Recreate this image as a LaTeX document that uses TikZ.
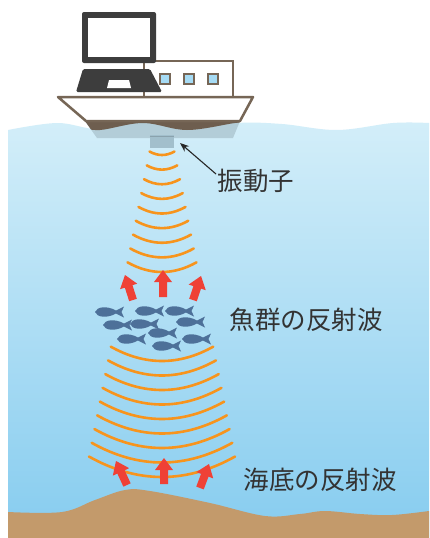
\documentclass[tikz,border=0pt]{standalone}
\usepackage{fontspec}
\newfontfamily\jpfont{Noto Sans CJK JP}
\usetikzlibrary{calc,arrows.meta}
\definecolor{watertop}{HTML}{D3EEF9}
\definecolor{waterbot}{HTML}{86CCEF}
\definecolor{hullline}{HTML}{766656}
\definecolor{hullbrown}{HTML}{6E5E4F}
\definecolor{subhull}{HTML}{B3CDD8}
\definecolor{screen}{HTML}{3D3D3D}
\definecolor{winblue}{HTML}{A6DBF4}
\definecolor{transd}{HTML}{A2BFCC}
\definecolor{sonar}{HTML}{F7941D}
\definecolor{echo}{HTML}{EF4136}
\definecolor{fishblue}{HTML}{4D7099}
\definecolor{seabed}{HTML}{C39A6B}
\definecolor{labeltext}{HTML}{333333}
\newcommand\blockarrow[2]{%
  \fill[echo] (#2)
    -- ($($(#2)!12pt!(#1)$)!9pt!90:(#2)$)
    -- ($($(#2)!12pt!(#1)$)!4pt!90:(#2)$)
    -- ($(#1)!4pt!90:(#2)$)
    -- ($(#1)!4pt!-90:(#2)$)
    -- ($($(#2)!12pt!(#1)$)!4pt!-90:(#2)$)
    -- ($($(#2)!12pt!(#1)$)!9pt!-90:(#2)$)
    -- cycle;}
\begin{document}
\begin{tikzpicture}[x=1pt,y=-1pt,
  wave/.style={draw=sonar, line width=2.6pt, line cap=round},
  label/.style={font=\jpfont\fontsize{25.5}{30}\selectfont, text=labeltext, inner sep=0pt},
  pointer/.style={draw=black!85, line width=1.1pt, -{Stealth[length=9pt,width=7pt]}},
  fish/.pic={\fill[fishblue] (-15,0) .. controls (-13,-5.5) and (-3,-6.5) .. (6,-1.5)
      -- (14,-5.5) -- (11.5,0) -- (14,5.5) -- (6,1.5)
      .. controls (-3,6.5) and (-13,5.5) .. (-15,0) -- cycle;}]
\useasboundingbox (0,0) rectangle (430,538);
\fill[white] (0,0) rectangle (430,538);

% sea with its wavy surface
\shade[top color=watertop, bottom color=waterbot]
  plot[smooth, tension=0.6] coordinates {(8,130) (57,123) (97,129) (140,123) (187,130) (237,123) (282,124) (337,130) (393,123) (429,123)}
  -- (429,538) -- (8,538) -- cycle;

% hull below the deck line: brown above the waterline, tinted below
\fill[subhull] (85,121) -- (240,121) -- (233,138) -- (97,138) -- cycle;
\begin{scope}
  \clip (85,121) -- (240,121) -- (233,138) -- (97,138) -- cycle;
  \fill[hullbrown] (80,118) -- (245,118)
    -- plot[smooth, tension=0.6] coordinates {(245,123) (235,123) (187,130) (143,123) (100,130) (80,127)} -- cycle;
\end{scope}

% cabin and windows
\filldraw[fill=white, draw=hullline, line width=2pt] (144,61) rectangle (233,97);
\foreach \wx in {160,184,208}
  \filldraw[fill=winblue, draw=hullline, line width=2pt] (\wx,74) rectangle ++(10,10);

% hull
\filldraw[fill=white, draw=hullline, line width=2.5pt, line join=round]
  (58,97) -- (253,97) -- (240,121) -- (86,121) -- cycle;

% monitor and keyboard
\fill[screen, rounded corners=2pt] (82,12) rectangle (156,63);
\fill[white] (88,18) rectangle (150,57);
\fill[screen, rounded corners=1.5pt] (83,69) -- (150,69) -- (162,92) -- (76,92) -- cycle;
\fill[white] (109,80) -- (129,80) -- (131,88) -- (107,88) -- cycle;

% transducer
\node[fill=transd, minimum width=24pt, minimum height=13pt, inner sep=0pt] (xdcr) at (162,141.5) {};
\draw[transd!85!black, line width=0.6pt] (xdcr.north west) ++(0,1.5) -- ++(24,0);

% outgoing sound pulses
\foreach \i in {0,...,8}{
  \pgfmathsetmacro\yb{155+14.625*\i}
  \pgfmathsetmacro\h{(25+0.376*(\yb-155))/2}
  \pgfmathsetmacro\s{0.28*\h}
  \draw[wave] ({162-\h},{\yb-\s}) .. controls ({162-\h/3},{\yb+\s/3}) and ({162+\h/3},{\yb+\s/3}) .. ({162+\h},{\yb-\s});
}
\foreach \i in {0,...,8}{
  \pgfmathsetmacro\yb{361+14.5*\i}
  \pgfmathsetmacro\h{(25+0.376*(\yb-155))/2}
  \pgfmathsetmacro\s{0.28*\h}
  \draw[wave] ({162-\h},{\yb-\s}) .. controls ({162-\h/3},{\yb+\s/3}) and ({162+\h/3},{\yb+\s/3}) .. ({162+\h},{\yb-\s});
}

% school of fish
\foreach \fx/\fy in {110/312, 150/311, 180/311, 118/325, 145/324, 191/322, 132/339, 163/333, 197/339, 167/346}
  \pic at (\fx,\fy) {fish};

% echoes from the fish
\coordinate (fa1) at (133,300); \coordinate (fb1) at (125,275);
\coordinate (fa2) at (163,297); \coordinate (fb2) at (163,270);
\coordinate (fa3) at (193,300); \coordinate (fb3) at (201,276);
\blockarrow{fa1}{fb1}
\blockarrow{fa2}{fb2}
\blockarrow{fa3}{fb3}

% sea bottom
\fill[seabed] plot[smooth, tension=0.6] coordinates {(8,512) (62,512) (95,500) (125,490) (150,491) (210,503) (265,516) (300,514) (325,511) (360,514) (392,515) (429,511)}
  -- (429,538) -- (8,538) -- cycle;

% echoes from the bottom
\coordinate (ba1) at (127,485); \coordinate (bb1) at (116,461);
\coordinate (ba2) at (164,484); \coordinate (bb2) at (164,458);
\coordinate (ba3) at (200,488); \coordinate (bb3) at (209,464);
\blockarrow{ba1}{bb1}
\blockarrow{ba2}{bb2}
\blockarrow{ba3}{bb3}

% labels
\node[label] (lxdcr) at (256,181) {振動子};
\node[label] (lfish) at (306,320) {魚群の反射波};
\node[label] (lbed) at (320,480) {海底の反射波};
\coordinate (ptrtail) at (216,174);
\coordinate (ptrtip) at (180,143);
\draw[pointer] (ptrtail) -- (ptrtip);
\end{tikzpicture}
\end{document}
